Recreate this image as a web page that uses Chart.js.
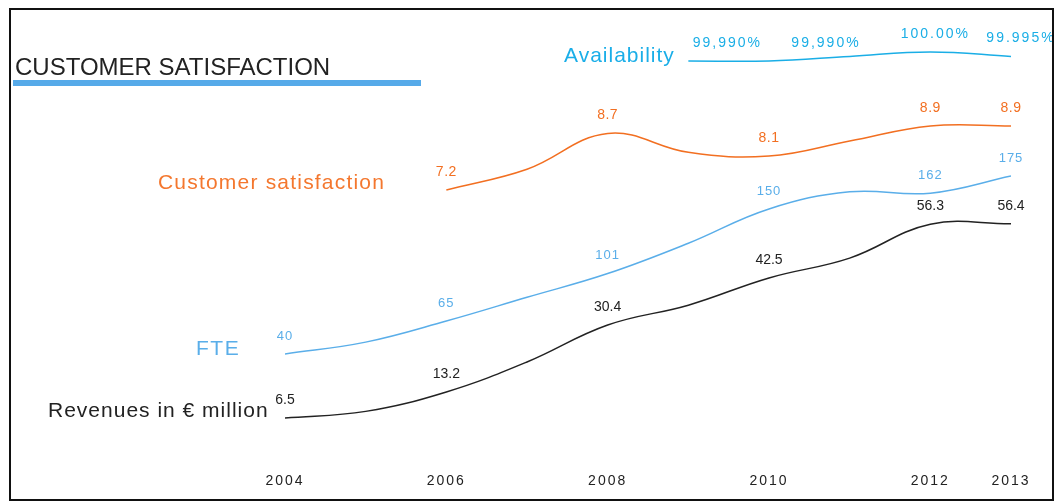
<!DOCTYPE html>
<html>
<head>
<meta charset="utf-8">
<script src="https://cdn.jsdelivr.net/npm/chart.js@4.4.1/dist/chart.umd.min.js"></script>
<style>
    html, body { margin: 0; padding: 0; background: #fff; }
    #wrap { position: relative; width: 1059px; height: 502px; overflow: hidden; font-family: "Liberation Sans", Arial, sans-serif; }
    #chart { position: absolute; left: 0; top: 0; }
    .frame { position: absolute; left: 9px; top: 8px; width: 1045px; height: 493px; box-sizing: border-box; border: 2px solid #111; }
    .title { position: absolute; left: 15px; top: 55px; font-size: 24px; line-height: 24px; color: #222; white-space: nowrap; }
    .bar { position: absolute; left: 13px; top: 80px; width: 408px; height: 6px; background: #56aae9; }
    .name { position: absolute; font-size: 21px; line-height: 21px; white-space: nowrap; }
</style>
</head>
<body>
<div id="wrap">
    <canvas id="chart" width="1059" height="502"></canvas>
    <div class="frame"></div>
    <div class="title">CUSTOMER SATISFACTION</div>
    <div class="bar"></div>
    <div class="name" style="left:564px;top:44px;color:#1aaee8;letter-spacing:1px">Availability</div>
    <div class="name" style="left:158px;top:171px;color:#f4772e;letter-spacing:1.2px">Customer satisfaction</div>
    <div class="name" style="left:196px;top:337px;color:#5aaee9;letter-spacing:1.5px">FTE</div>
    <div class="name" style="left:48px;top:399px;color:#222;letter-spacing:1px">Revenues in € million</div>
</div>
<script>
    const years = [2004, 2005, 2006, 2007, 2008, 2009, 2010, 2011, 2012, 2013];
    const tickYears = [2004, 2006, 2008, 2010, 2012, 2013];

    const revenue = [6.5, 8.2, 13.2, 20.9, 30.4, 35.5, 42.5, 47.6, 56.3, 56.4];
    const fte = [40, 49, 65, 83, 101, 124, 150, 163, 162, 175];
    const satisfaction = [null, null, 7.2, 7.75, 8.7, 8.2, 8.1, 8.5, 8.9, 8.9];
    const availability = [null, null, null, null, null, 99.990, 99.990, 99.995, 100.00, 99.995];

    const labelYears = [2004, 2006, 2008, 2010, 2012, 2013];
    const availabilityYears = [2009, 2010, 2012, 2013];
    const availabilityText = ["99,990%", "99,990%", "100.00%", "99.995%"];
    const availabilityShift = [39, 57, 5, 10];

    const pointLabels = (values, fmt) => years.map((y, i) =>
        labelYears.includes(y) && values[i] != null ? { text: fmt(values[i]), dx: 0 } : null);

    const labelSets = [
        { items: pointLabels(revenue, v => v.toFixed(1)), font: "14px 'Liberation Sans'", spacing: "0px" },
        { items: pointLabels(fte, v => String(v)), font: "13px 'Liberation Sans'", spacing: "1px" },
        { items: pointLabels(satisfaction, v => v.toFixed(1)), font: "14px 'Liberation Sans'", spacing: "0.5px" },
        {
            items: years.map(y => {
                const k = availabilityYears.indexOf(y);
                return k < 0 ? null : { text: availabilityText[k], dx: availabilityShift[k] };
            }),
            font: "14px 'Liberation Sans'",
            spacing: "2px"
        }
    ];

    const valueLabels = {
        id: "valueLabels",
        beforeDraw(chart) {
            chart.ctx.letterSpacing = "2px";
        },
        afterDatasetsDraw(chart) {
            const ctx = chart.ctx;
            chart.data.datasets.forEach((ds, i) => {
                const meta = chart.getDatasetMeta(i);
                const set = labelSets[i];
                set.items.forEach((item, j) => {
                    if (!item) {
                        return;
                    }
                    const pt = meta.data[j];
                    ctx.save();
                    ctx.font = set.font;
                    ctx.letterSpacing = set.spacing;
                    ctx.fillStyle = ds.borderColor;
                    ctx.textAlign = "center";
                    ctx.textBaseline = "middle";
                    ctx.fillText(item.text, pt.x + item.dx, pt.y - 18);
                    ctx.restore();
                });
            });
        }
    };

    const line = (data, color, axis) => ({
        data,
        yAxisID: axis,
        borderColor: color,
        borderWidth: 1.5,
        pointRadius: 0,
        tension: 0.4,
        fill: false
    });

    new Chart(document.getElementById("chart"), {
        type: "line",
        data: {
            labels: years,
            datasets: [
                line(revenue, "#222222", "yRev"),
                line(fte, "#5aaee9", "yFte"),
                line(satisfaction, "#f26f21", "ySat"),
                line(availability, "#1aaee6", "yAv")
            ]
        },
        options: {
            responsive: false,
            animation: false,
            devicePixelRatio: 1,
            layout: { padding: { left: 285, right: 48, top: 20, bottom: 10 } },
            plugins: { legend: { display: false }, tooltip: { enabled: false } },
            scales: {
                x: {
                    type: "linear",
                    min: 2004,
                    max: 2013,
                    afterBuildTicks: (scale) => { scale.ticks = tickYears.map(v => ({ value: v })); },
                    afterFit: (scale) => { scale.height = 30; },
                    grid: { display: false, drawTicks: false },
                    border: { display: false },
                    ticks: {
                        padding: 11,
                        color: "#222",
                        autoSkip: false,
                        maxRotation: 0,
                        font: { family: "Liberation Sans", size: 14 },
                        callback: (v) => String(v)
                    }
                },
                yRev: { display: false, min: -4.81, max: 108.8 },
                yFte: { display: false, min: -41.9, max: 293.3 },
                ySat: { display: false, min: -0.025, max: 11.715 },
                yAv: { display: false, min: 99.5444, max: 100.0355 }
            }
        },
        plugins: [valueLabels]
    });
</script>
</body>
</html>
